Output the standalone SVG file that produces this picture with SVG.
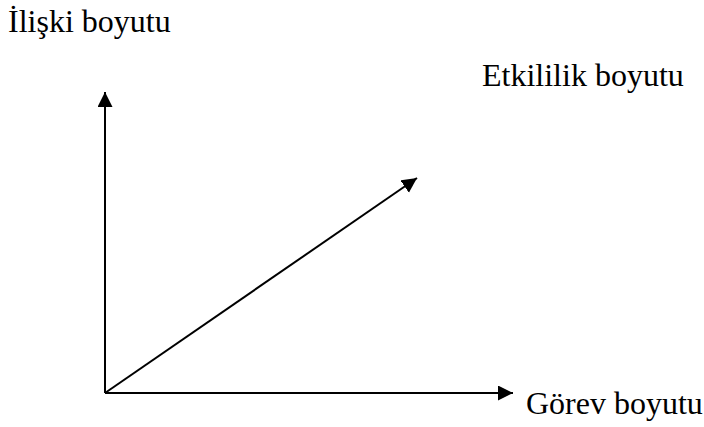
<svg xmlns="http://www.w3.org/2000/svg" width="704" height="427" viewBox="0 0 704 427">
<style>
text{font-family:"Liberation Serif","Times New Roman",serif;font-size:32px;fill:#000}
.ax{stroke:#000;stroke-width:2;fill:none}
</style>
<defs>
<marker id="ah" markerWidth="16" markerHeight="16" refX="15" refY="7.5" orient="auto" markerUnits="userSpaceOnUse">
<path d="M0,0 L15,7.5 L0,15 Z" fill="#000"/>
</marker>
</defs>
<rect width="704" height="427" fill="#fff"/>
<g id="connectors">
<line class="ax" x1="105" y1="393" x2="105" y2="92" marker-end="url(#ah)"/>
<line class="ax" x1="105" y1="393" x2="513" y2="393" marker-end="url(#ah)"/>
<line class="ax" x1="105" y1="393" x2="417" y2="178" marker-end="url(#ah)"/>
</g>
<g id="iliski"><text x="8" y="32">İlişki boyutu</text></g>
<g id="etkililik"><text x="482" y="86">Etkililik boyutu</text></g>
<g id="gorev"><text x="526" y="414">Görev boyutu</text></g>
</svg>
